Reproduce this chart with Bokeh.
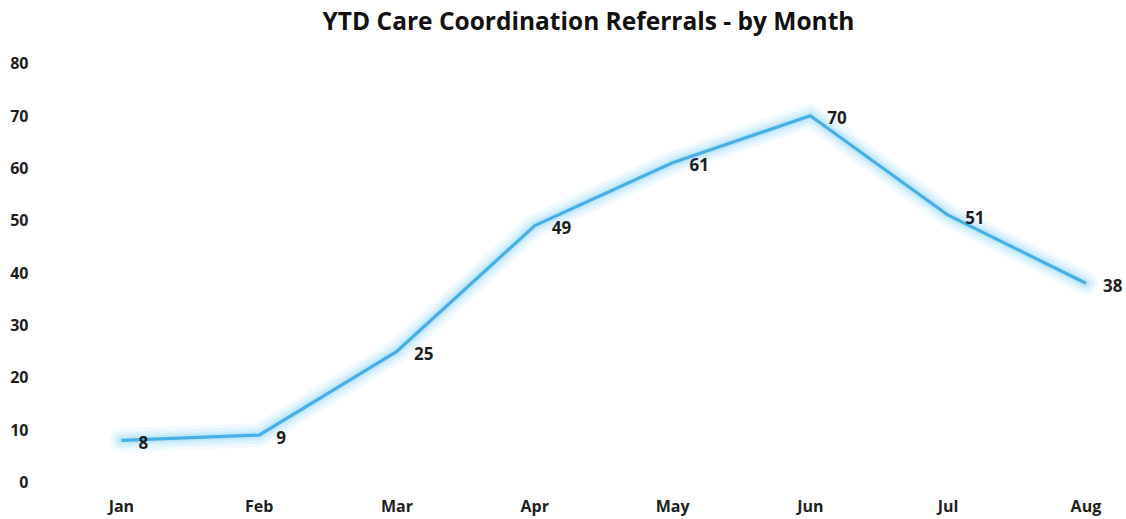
from bokeh.plotting import figure
from bokeh.models import Range1d, FixedTicker, ColumnDataSource, LabelSet, Label
from bokeh.core.properties import value
from bokeh.embed import file_html
from bokeh.resources import INLINE

title_text = "YTD Care Coordination Referrals - by Month"
months = ["Jan", "Feb", "Mar", "Apr", "May", "Jun", "Jul", "Aug"]
referrals = [8, 9, 25, 49, 61, 70, 51, 38]
y_ticks = [0, 10, 20, 30, 40, 50, 60, 70, 80]

idx = list(range(len(months)))
src = ColumnDataSource(dict(x=idx, y=referrals, lab=[str(v) for v in referrals]))

FONT = "Open Sans"
X0, X1 = -0.50, 7.28
Y0, Y1 = -0.06, 91.24

p = figure(width=1124, height=519, output_backend="svg", toolbar_location=None,
           x_range=Range1d(X0, X1), y_range=Range1d(Y0, Y1),
           min_border_left=52, min_border_right=0, min_border_top=4, min_border_bottom=30)

p.outline_line_color = None
p.grid.grid_line_color = None
for ax in (p.xaxis[0], p.yaxis[0]):
    ax.axis_line_color = None
    ax.major_tick_line_color = None
    ax.minor_tick_line_color = None
    ax.major_label_text_font = FONT
    ax.major_label_text_font_style = "bold"
    ax.major_label_text_color = "#1E1E1E"
    ax.major_label_text_font_size = "16px"

p.xaxis.ticker = FixedTicker(ticks=idx)
p.xaxis.major_label_overrides = {i: m for i, m in enumerate(months)}
p.xaxis.major_label_standoff = 6
p.yaxis.ticker = FixedTicker(ticks=y_ticks)
p.yaxis.major_label_standoff = 18

# soft glow around the line
for w, a in ((24, 0.15), (17, 0.20), (11, 0.28), (7, 0.36)):
    p.line("x", "y", source=src, line_color="#A6DDF8", line_width=w, line_alpha=a,
           line_join="round", line_cap="round")
p.line("x", "y", source=src, line_color="#48AFE6", line_width=3.2, line_join="round")

labels = LabelSet(x="x", y="y", text="lab", source=src, x_offset=17, y_offset=-2,
                  text_align="left", text_baseline="middle", text_font=value(FONT),
                  text_font_style="bold", text_font_size="17px", text_color="#1E1E1E")
p.add_layout(labels)

# chart title drawn at the top of the frame, centred on it
title = Label(x=(X0 + X1) / 2, y=Y1, y_offset=-16, text=title_text,
              text_align="center", text_baseline="middle", text_font=FONT,
              text_font_style="bold", text_font_size="24.5px", text_color="#111111")
p.add_layout(title)

open("out.html", "w").write(file_html(p, INLINE))
